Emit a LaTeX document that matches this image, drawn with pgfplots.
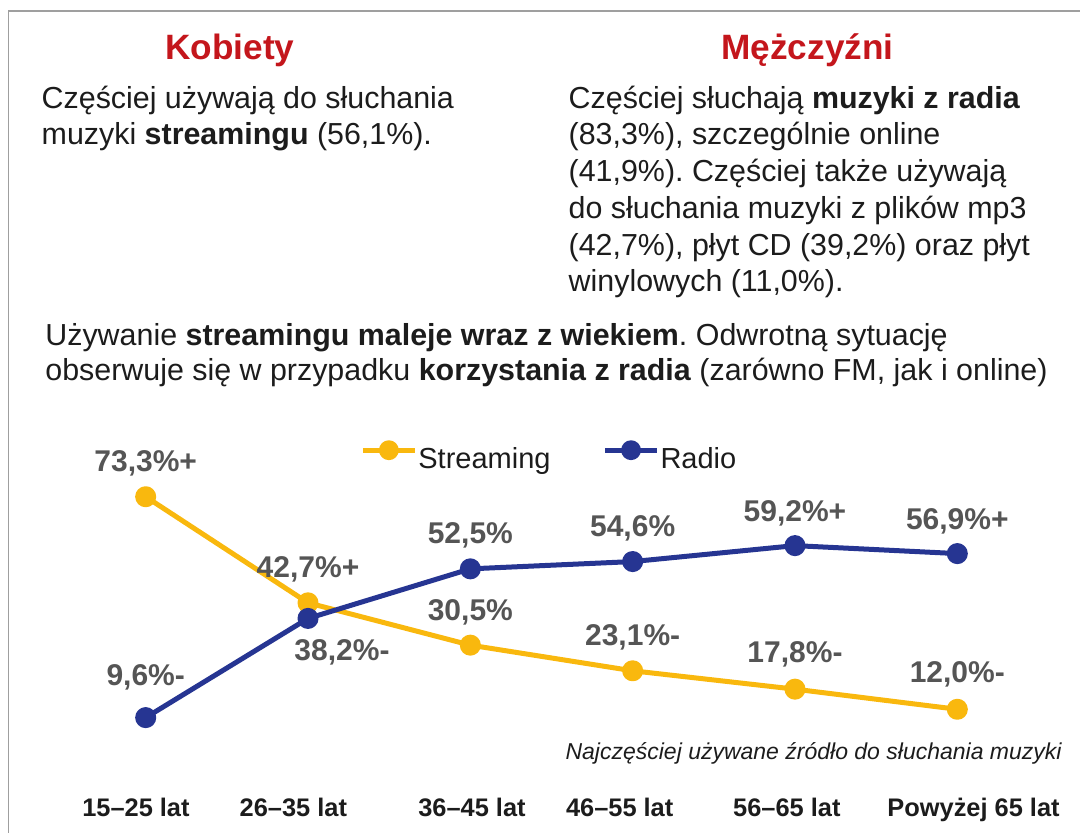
\documentclass[border=0pt]{standalone}
\usepackage{fontspec}
\setmainfont{Liberation Sans}
\usepackage{pgfplots}
\usepackage{pgfplotstable}
\pgfplotsset{compat=1.18}
\frenchspacing

\definecolor{streamc}{HTML}{F9B80E}
\definecolor{radioc}{HTML}{263592}
\definecolor{labelc}{HTML}{555555}
\definecolor{titlec}{HTML}{C4161C}
\definecolor{txt}{HTML}{1C1C1C}

\tikzset{lab/.style={anchor=base, inner sep=0pt, text=labelc, font=\fontsize{15}{18}\selectfont\bfseries}}

\pgfplotstableread{
x y
0 73.3
1 42.7
2 30.5
3 23.1
4 17.8
5 12.0
}\streaming

\pgfplotstableread{
x y
0 9.6
1 38.2
2 52.5
3 54.6
4 59.2
5 56.9
}\radio

\begin{document}
\begin{tikzpicture}
\path[use as bounding box] (0pt,0pt) rectangle (540pt,416.5pt);
\draw[gray!75, line width=0.8pt] (4.3pt,0pt) -- (4.3pt,411pt) -- (540pt,411pt);

\begin{axis}[
  at={(24.15pt,41.05pt)}, anchor=south west,
  scale only axis, width=503.2pt, height=138.7pt,
  xmin=-0.6, xmax=5.6, ymin=0, ymax=80,
  clip=false,
  axis line style={draw=none},
  ytick=\empty,
  xtick={-0.06,0.91,2.01,2.92,3.95,5.10},
  xticklabels={15–25 lat, 26–35 lat, 36–45 lat, 46–55 lat, 56–65 lat, Powyżej 65 lat},
  major tick length=0pt,
  tick style={draw=none},
  xticklabel style={anchor=base, yshift=-33.05pt, text=txt, font=\fontsize{12.7}{15}\selectfont\bfseries},
  legend columns=2,
  legend style={at={(0.3097,1.0595)}, anchor=west, draw=none, fill=none, inner sep=0pt,
    nodes={inner sep=0pt, text=txt}, font=\fontsize{14.5}{17}\selectfont,
    /tikz/every odd column/.append style={column sep=0.5pt},
    /tikz/every even column/.append style={column sep=26pt}},
  legend image code/.code={\draw[mark repeat=2,mark phase=2,#1,mark size=3.7pt] plot coordinates {(0pt,4.5pt) (13pt,4.5pt) (26pt,4.5pt)};},
]
\addplot[streamc, line width=2.5pt, line join=round, mark=*, mark size=4pt,
  mark options={fill=streamc, draw=none}]
  table[x=x, y=y]{\streaming};
\addlegendentry{Streaming}
\addplot[radioc, line width=2.5pt, line join=round, mark=*, mark size=4pt,
  mark options={fill=radioc, draw=none}]
  table[x=x, y=y]{\radio};
\addlegendentry{Radio}

\node[lab, yshift=12.5pt] at (axis cs:0,73.3) {73,3\%+};
\node[lab, yshift=12.85pt] at (axis cs:1,42.7) {42,7\%+};
\node[lab, yshift=12.5pt] at (axis cs:2,30.5) {30,5\%};
\node[lab, yshift=12.85pt] at (axis cs:3,23.1) {23,1\%-};
\node[lab, yshift=13.5pt] at (axis cs:4,17.8) {17,8\%-};
\node[lab, yshift=13.15pt] at (axis cs:5,12.0) {12,0\%-};
\node[lab, yshift=16pt] at (axis cs:0,9.6) {9,6\%-};
\node[lab, xshift=17pt, yshift=-21pt] at (axis cs:1,38.2) {38,2\%-};
\node[lab, yshift=12.5pt] at (axis cs:2,52.5) {52,5\%};
\node[lab, yshift=12.35pt] at (axis cs:3,54.6) {54,6\%};
\node[lab, yshift=12pt] at (axis cs:4,59.2) {59,2\%+};
\node[lab, yshift=12pt] at (axis cs:5,56.9) {56,9\%+};
\end{axis}

\node[anchor=base, inner sep=0pt, text=titlec, font=\fontsize{17.6}{20}\selectfont\bfseries] at (114.95pt,386.5pt) {Kobiety};
\node[anchor=base, inner sep=0pt, text=titlec, font=\fontsize{17.6}{20}\selectfont\bfseries] at (403.75pt,386.5pt) {Mężczyźni};

\begin{scope}[every node/.style={anchor=base west, inner sep=0pt, text=txt, font=\fontsize{15.2}{18}\selectfont}]
\node at (20.65pt,362.35pt) {Częściej używają do słuchania};
\node at (20.65pt,344pt) {muzyki \textbf{streamingu} (56,1\%).};
\node at (284.15pt,362.35pt) {Częściej słuchają \textbf{muzyki z radia}};
\node at (284.15pt,344pt) {(83,3\%), szczególnie online};
\node at (284.15pt,325.65pt) {(41,9\%). Częściej także używają};
\node at (284.15pt,307.3pt) {do słuchania muzyki z plików mp3};
\node at (284.15pt,288.95pt) {(42,7\%), płyt CD (39,2\%) oraz płyt};
\node at (284.15pt,270.6pt) {winylowych (11,0\%).};
\node at (22.5pt,243.5pt) {Używanie \textbf{streamingu maleje wraz z wiekiem}. Odwrotną sytuację};
\node at (22.5pt,226pt) {obserwuje się w przypadku \textbf{korzystania z radia} (zarówno FM, jak i online)};
\end{scope}

\node[anchor=base east, inner sep=0pt, text=txt, font=\fontsize{11.5}{14}\selectfont\itshape] at (531pt,36.5pt) {Najczęściej używane źródło do słuchania muzyki};
\end{tikzpicture}
\end{document}
